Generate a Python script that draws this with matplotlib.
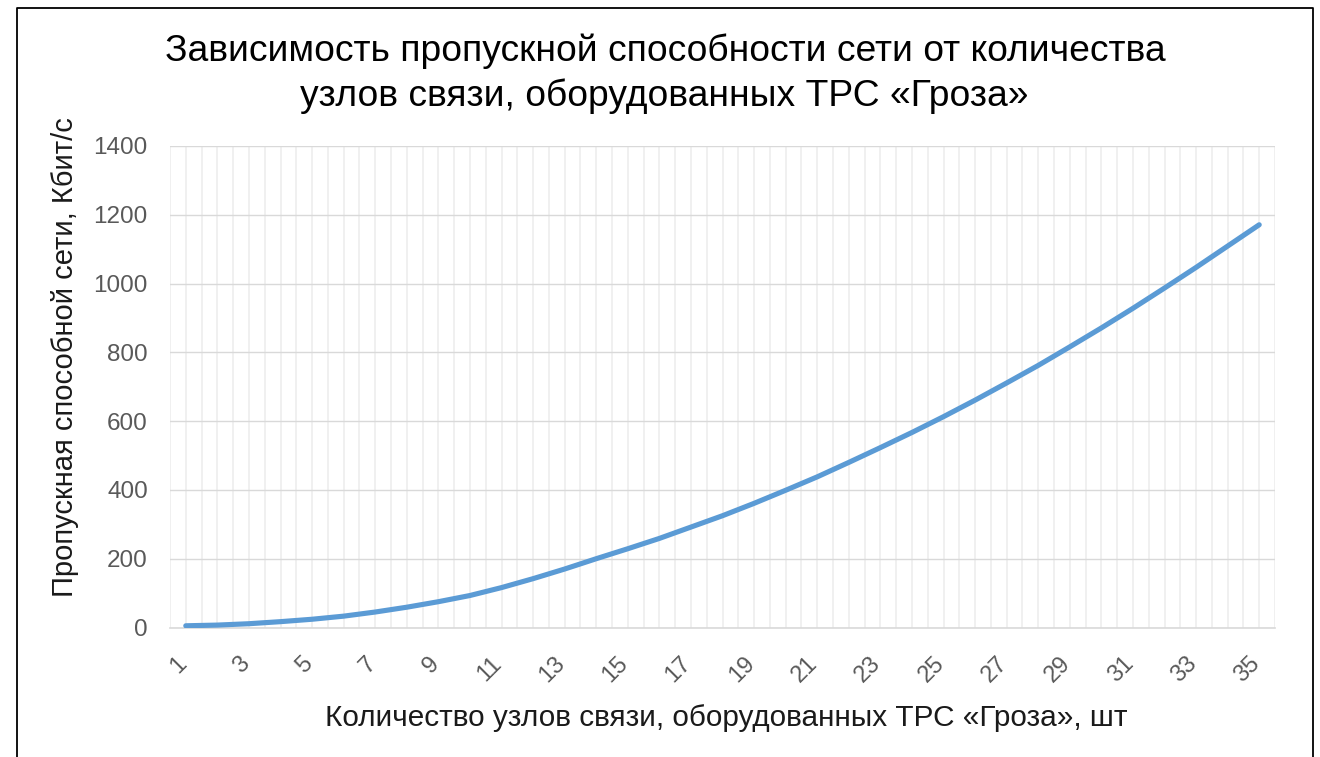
import matplotlib
matplotlib.use("Agg")
import matplotlib.pyplot as plt
import matplotlib.transforms as mtrans
import numpy as np
from matplotlib.lines import Line2D

# ---- data ----
nodes = [str(i) for i in range(1, 36)]
throughput = [5, 7, 11, 17, 24, 33, 45, 59, 75, 93,
              116, 142, 170, 200, 229, 259, 292, 325, 361, 399,
              438, 480, 523, 567, 613, 661, 711, 762, 816, 871,
              928, 987, 1047, 1109, 1171]
y_ticks = [0, 200, 400, 600, 800, 1000, 1200, 1400]

title_lines = ["Зависимость пропускной способности сети от количества",
               "узлов связи, оборудованных ТРС «Гроза»"]
x_label = "Количество узлов связи, оборудованных ТРС «Гроза», шт"
y_label = "Пропускная способной сети, Кбит/с"

plt.rcParams['font.family'] = ['Liberation Sans', 'DejaVu Sans']

W, H = 1320, 757
fig = plt.figure(figsize=(W / 100, H / 100), dpi=100)
fig.patch.set_facecolor('white')

L, R, T, B = 170, 1275, 146, 627.5
ax = fig.add_axes([L / W, 1 - B / H, (R - L) / W, (B - T) / H])

x = np.arange(1, len(throughput) + 1)

# vertical gridlines at category centres and boundaries
for gx in np.arange(0.5, len(nodes) + 1, 0.5):
    ax.axvline(gx, color='#efefef', lw=1.3, zorder=0)

ax.plot(x, throughput, color='#5B9BD5', lw=3.7, solid_capstyle='round', zorder=3)

ax.set_xlim(0.5, len(nodes) + 0.5)
ax.set_ylim(0, 1400)

# y axis
ax.set_yticks(y_ticks)
ax.set_yticklabels([str(v) for v in y_ticks], fontsize=17.5, color='#595959')
ax.tick_params(axis='y', length=0, pad=16)
ax.grid(axis='y', which='major', color='#d9d9d9', lw=1.0, zorder=1)

# x axis: labels every other category
odd_pos = x[::2]
ax.set_xticks(odd_pos)
ax.set_xticklabels([nodes[i - 1] for i in odd_pos], fontsize=17, color='#595959',
                   rotation=45, ha='right', va='top')
ax.tick_params(axis='x', length=0, pad=18)
shift = mtrans.ScaledTranslation(5 / 100, 0, fig.dpi_scale_trans)
for lab in ax.get_xticklabels():
    lab.set_transform(lab.get_transform() + shift)

ax.set_axisbelow(True)
for s in ['left', 'right', 'top']:
    ax.spines[s].set_visible(False)
ax.spines['bottom'].set_color('#d9d9d9')
ax.spines['bottom'].set_linewidth(1.2)

# axis titles
fig.text(726 / W, 1 - 718 / H, x_label, fontsize=21.4, color='#1a1a1a',
         ha='center', va='center')
fig.text(65 / W, 1 - 357 / H, y_label, fontsize=21, color='#1a1a1a',
         ha='center', va='center', rotation=90)

# title
fig.text(665 / W, 1 - 51 / H, title_lines[0], fontsize=26.8, color='black',
         ha='center', va='center')
fig.text(664 / W, 1 - 96 / H, title_lines[1], fontsize=26.8, color='black',
         ha='center', va='center')

# outer frame (left, top, right visible)
frame = Line2D([16.5 / W, 16.5 / W, 1312.5 / W, 1312.5 / W],
               [0, 1 - 7.5 / H, 1 - 7.5 / H, 0],
               transform=fig.transFigure, color='black', lw=1.3)
fig.add_artist(frame)

fig.savefig('out.png', dpi=100, facecolor='white')
